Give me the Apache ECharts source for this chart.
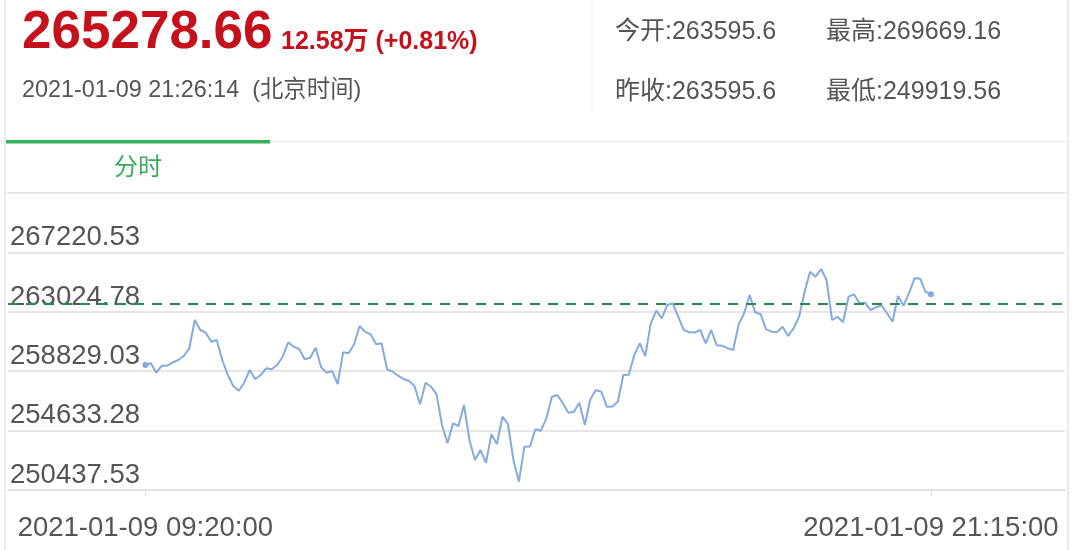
<!DOCTYPE html>
<html>
<head>
<meta charset="utf-8">
<script src="https://cdn.jsdelivr.net/npm/echarts@6/dist/echarts.min.js"></script>
<style>
html,body{margin:0;padding:0;background:#fff;}
#chart{width:1080px;height:550px;}
</style>
</head>
<body>
<div id="chart"></div>
<script>
// ---- header info ----
const lastPrice = '265278.66';
const changeText = '12.58万 (+0.81%)';
const updateTime = '2021-01-09 21:26:14  (北京时间)';
const openText = '今开:263595.6';
const highText = '最高:269669.16';
const prevCloseText = '昨收:263595.6';
const lowText = '最低:249919.56';
const tabName = '分时';
const prevClose = 263595.6;

// ---- time categories (5-minute steps, 09:20 -> 21:15) ----
const startMinutes = 9 * 60 + 20;
const stepMinutes = 5;
const pointCount = 144;
const times = [];
for (let i = 0; i < pointCount; i++) {
  const m = startMinutes + i * stepMinutes;
  times.push(String(Math.floor(m / 60)).padStart(2, '0') + ':' + String(m % 60).padStart(2, '0'));
}

// ---- x tick labels ----
const xTickIndex = [0, 143];
const xTickLabels = ['2021-01-09 09:20:00', '2021-01-09 21:15:00'];

// ---- y tick labels ----
const yTickLabels = ['250437.53', '254633.28', '258829.03', '263024.78', '267220.53', '271416.28'];

// ---- price series ----
const prices = [
  259266.9, 259387.0, 258723.0, 259217.4, 259230.0, 259457.6, 259620.1, 259902.6, 260446.5, 262445.5,
  261739.1, 261548.4, 260912.7, 261032.8, 259620.1, 258560.5, 257783.5, 257451.6, 258016.6, 258913.7,
  258278.0, 258560.5, 259033.8, 258963.1, 259266.9, 259853.1, 260870.3, 260559.5, 260397.0, 259669.5,
  259782.5, 260488.9, 259104.4, 258723.0, 258843.1, 257924.8, 260163.9, 260093.3, 260729.0, 262021.6,
  261619.0, 261435.4, 260729.0, 260799.7, 258963.1, 258793.6, 258511.1, 258278.0, 258136.7, 257783.5,
  256490.9, 258016.6, 257734.1, 257197.3, 255028.8, 253736.2, 255148.9, 254958.1, 256441.5, 253969.3,
  252556.6, 253262.9, 252365.8, 254371.9, 253686.7, 255615.0, 255099.4, 252556.6, 251023.8, 253496.0,
  253510.0, 254725.0, 254626.2, 255502.0, 257027.7, 257147.8, 256561.6, 255897.6, 255968.2, 256603.9,
  255028.8, 256844.1, 257501.0, 257380.9, 256321.4, 256330.0, 256674.6, 258560.5, 258580.0, 259973.2,
  260799.7, 259902.6, 262212.4, 263102.4, 262565.5, 263505.0, 263625.1, 262678.5, 261739.1, 261576.6,
  261560.0, 261739.1, 260799.7, 261739.1, 260658.4, 260630.1, 260446.5, 260326.4, 262141.7, 262918.7,
  264211.3, 262989.3, 262848.1, 261788.5, 261619.0, 261600.0, 261972.2, 261315.3, 261859.2, 262678.5,
  264444.4, 265857.1, 265504.0, 266047.8, 265270.9, 262445.5, 262678.5, 262283.0, 264091.2, 264260.8,
  263625.1, 263667.4, 263151.8, 263342.5, 263483.8, 262918.7, 262325.4, 264140.7, 263455.5, 264331.4,
  265390.9, 265380.0, 264444.4, 264260.8
];

const FONT = "'Liberation Sans', 'Noto Sans CJK SC', sans-serif";
const chart = echarts.init(document.getElementById('chart'), null, {renderer: 'canvas'});

const yMin = Number(yTickLabels[0]);
const yInterval = Number(yTickLabels[1]) - Number(yTickLabels[0]);
const yMax = Number(yTickLabels[yTickLabels.length - 1]);

chart.setOption({
  animation: false,
  backgroundColor: '#ffffff',
  grid: {left: 8, right: 15, top: 193, bottom: 60, containLabel: false},
  xAxis: {
    type: 'value',
    min: -25,
    max: 167.4,
    axisLine: {show: true, lineStyle: {color: '#e2e2e2', width: 2}},
    axisTick: {show: true, customValues: xTickIndex, length: 6, lineStyle: {color: '#dcdcdc', width: 1}},
    axisLabel: {
      show: true,
      customValues: xTickIndex,
      formatter: function (v) { return xTickLabels[xTickIndex.indexOf(Math.round(v))] || ''; },
      fontSize: 27.5, fontFamily: FONT, color: '#555', margin: 25
    },
    splitLine: {show: false}
  },
  yAxis: {
    type: 'value',
    min: yMin,
    max: yMax,
    interval: yInterval,
    axisLine: {show: false},
    axisTick: {show: false},
    axisLabel: {
      inside: true,
      showMaxLabel: false,
      verticalAlign: 'bottom',
      padding: [0, 0, 1, 0],
      margin: 2,
      fontSize: 27.5, fontFamily: FONT, color: '#555',
      formatter: function (v) {
        let best = yTickLabels[0], d = Infinity;
        yTickLabels.forEach(function (t) { const dd = Math.abs(Number(t) - v); if (dd < d) { d = dd; best = t; } });
        return best;
      }
    },
    splitLine: {show: true, lineStyle: {color: '#e6e6e6', width: 2}}
  },
  series: [{
    type: 'line',
    data: prices.map(function (v, i) { return [i, v]; }),
    showAllSymbol: true,
    symbol: 'circle',
    symbolSize: function (val, params) {
      return (params.dataIndex === 0 || params.dataIndex === prices.length - 1) ? 6 : 0;
    },
    itemStyle: {color: '#84abdc'},
    lineStyle: {color: '#84abdc', width: 2},
    z: 3,
    markLine: {
      silent: true,
      symbol: 'none',
      label: {show: false},
      lineStyle: {color: '#2a8c48', type: [10, 8], width: 2},
      data: [{yAxis: prevClose}]
    }
  }],
  graphic: [
    {type: 'line', shape: {x1: 5, y1: 0, x2: 5, y2: 550}, style: {stroke: '#e4e4e4', lineWidth: 1.5}, silent: true},
    {type: 'line', shape: {x1: 1068, y1: 0, x2: 1068, y2: 550}, style: {stroke: '#e4e4e4', lineWidth: 1.5}, silent: true},
    {type: 'line', shape: {x1: 592, y1: 0, x2: 592, y2: 110}, style: {stroke: '#e2e2e2', lineWidth: 1, lineDash: [2, 2]}, silent: true},
    {type: 'line', shape: {x1: 5, y1: 141.5, x2: 1068, y2: 141.5}, style: {stroke: '#ececec', lineWidth: 1.5}, silent: true},
    {type: 'line', shape: {x1: 5, y1: 193, x2: 1068, y2: 193}, style: {stroke: '#ececec', lineWidth: 1.5}, silent: true},
    {type: 'rect', shape: {x: 6, y: 140, width: 264, height: 3.5}, style: {fill: '#34b45a'}, silent: true},
    {type: 'text', x: 22, y: 33, style: {text: lastPrice, font: 'bold 53px ' + FONT, fill: '#c4111b', textVerticalAlign: 'middle'}, silent: true},
    {type: 'text', x: 281, y: 42, style: {text: changeText, font: 'bold 25px ' + FONT, fill: '#c4111b', textVerticalAlign: 'middle'}, silent: true},
    {type: 'text', x: 22, y: 91, style: {text: updateTime, font: '23.4px ' + FONT, fill: '#555', textVerticalAlign: 'middle'}, silent: true},
    {type: 'text', x: 615, y: 32, style: {text: openText, font: '25px ' + FONT, fill: '#555', textVerticalAlign: 'middle'}, silent: true},
    {type: 'text', x: 826, y: 32, style: {text: highText, font: '25px ' + FONT, fill: '#555', textVerticalAlign: 'middle'}, silent: true},
    {type: 'text', x: 615, y: 92, style: {text: prevCloseText, font: '25px ' + FONT, fill: '#555', textVerticalAlign: 'middle'}, silent: true},
    {type: 'text', x: 826, y: 92, style: {text: lowText, font: '25px ' + FONT, fill: '#555', textVerticalAlign: 'middle'}, silent: true},
    {type: 'text', x: 138, y: 168, style: {text: tabName, font: '24px ' + FONT, fill: '#3aaa5c', textAlign: 'center', textVerticalAlign: 'middle'}, silent: true}
  ]
});
</script>
</body>
</html>
